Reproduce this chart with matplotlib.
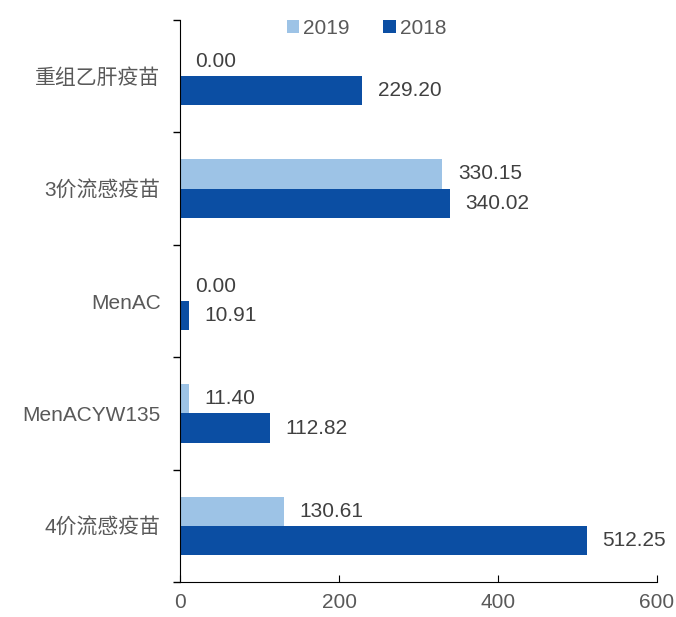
import matplotlib
matplotlib.use('Agg')
import matplotlib.pyplot as plt
import numpy as np

plt.rcParams['font.family'] = ['Liberation Sans', 'Noto Sans CJK SC', 'DejaVu Sans']

categorias = ['4价流感疫苗', 'MenACYW135', 'MenAC', '3价流感疫苗', '重组乙肝疫苗']
v2019 = [130.61, 11.40, 0.00, 330.15, 0.00]
v2018 = [512.25, 112.82, 10.91, 340.02, 229.20]
cor2019 = '#9DC3E6'
cor2018 = '#0B4EA3'
cinza = '#595959'

fig = plt.figure(figsize=(6.76, 6.17), dpi=100)
ax = fig.add_axes([0.2663, 0.0567, 0.7056, 0.9109])

y = np.arange(len(categorias))
h = 0.26
b19 = ax.barh(y + h / 2, v2019, height=h, color=cor2019, label='2019')
b18 = ax.barh(y - h / 2, v2018, height=h, color=cor2018, label='2018')

for barras, vals in [(b19, v2019), (b18, v2018)]:
    for b, v in zip(barras, vals):
        ax.annotate(f'{v:.2f}', xy=(v, b.get_y() + b.get_height() / 2),
                    xytext=(11, 0), textcoords='offset points',
                    va='center', ha='left', fontsize=15, color='#404040')

ax.set_xlim(0, 600)
ax.set_ylim(-0.5, 4.5)
ax.set_xticks([0, 200, 400, 600])
ax.set_yticks(y)
ax.set_yticklabels(categorias)
ax.set_yticks(np.arange(-0.5, 4.6, 1), minor=True)
ax.tick_params(axis='y', which='major', length=0, pad=14, labelsize=15, labelcolor=cinza)
ax.tick_params(axis='y', which='minor', length=5, direction='out', width=1)
ax.tick_params(axis='x', direction='in', length=5, pad=8, labelsize=15, labelcolor=cinza)
ax.spines['top'].set_visible(False)
ax.spines['right'].set_visible(False)

handles = [b19, b18]
fig.legend(handles, ['2019', '2018'], ncol=2, loc='upper center',
           bbox_to_anchor=(0.542, 1.0), frameon=False, fontsize=15,
           labelcolor=cinza, handlelength=0.6, handleheight=0.6,
           handletextpad=0.2, columnspacing=1.6)

plt.savefig('out.png', dpi=100)
